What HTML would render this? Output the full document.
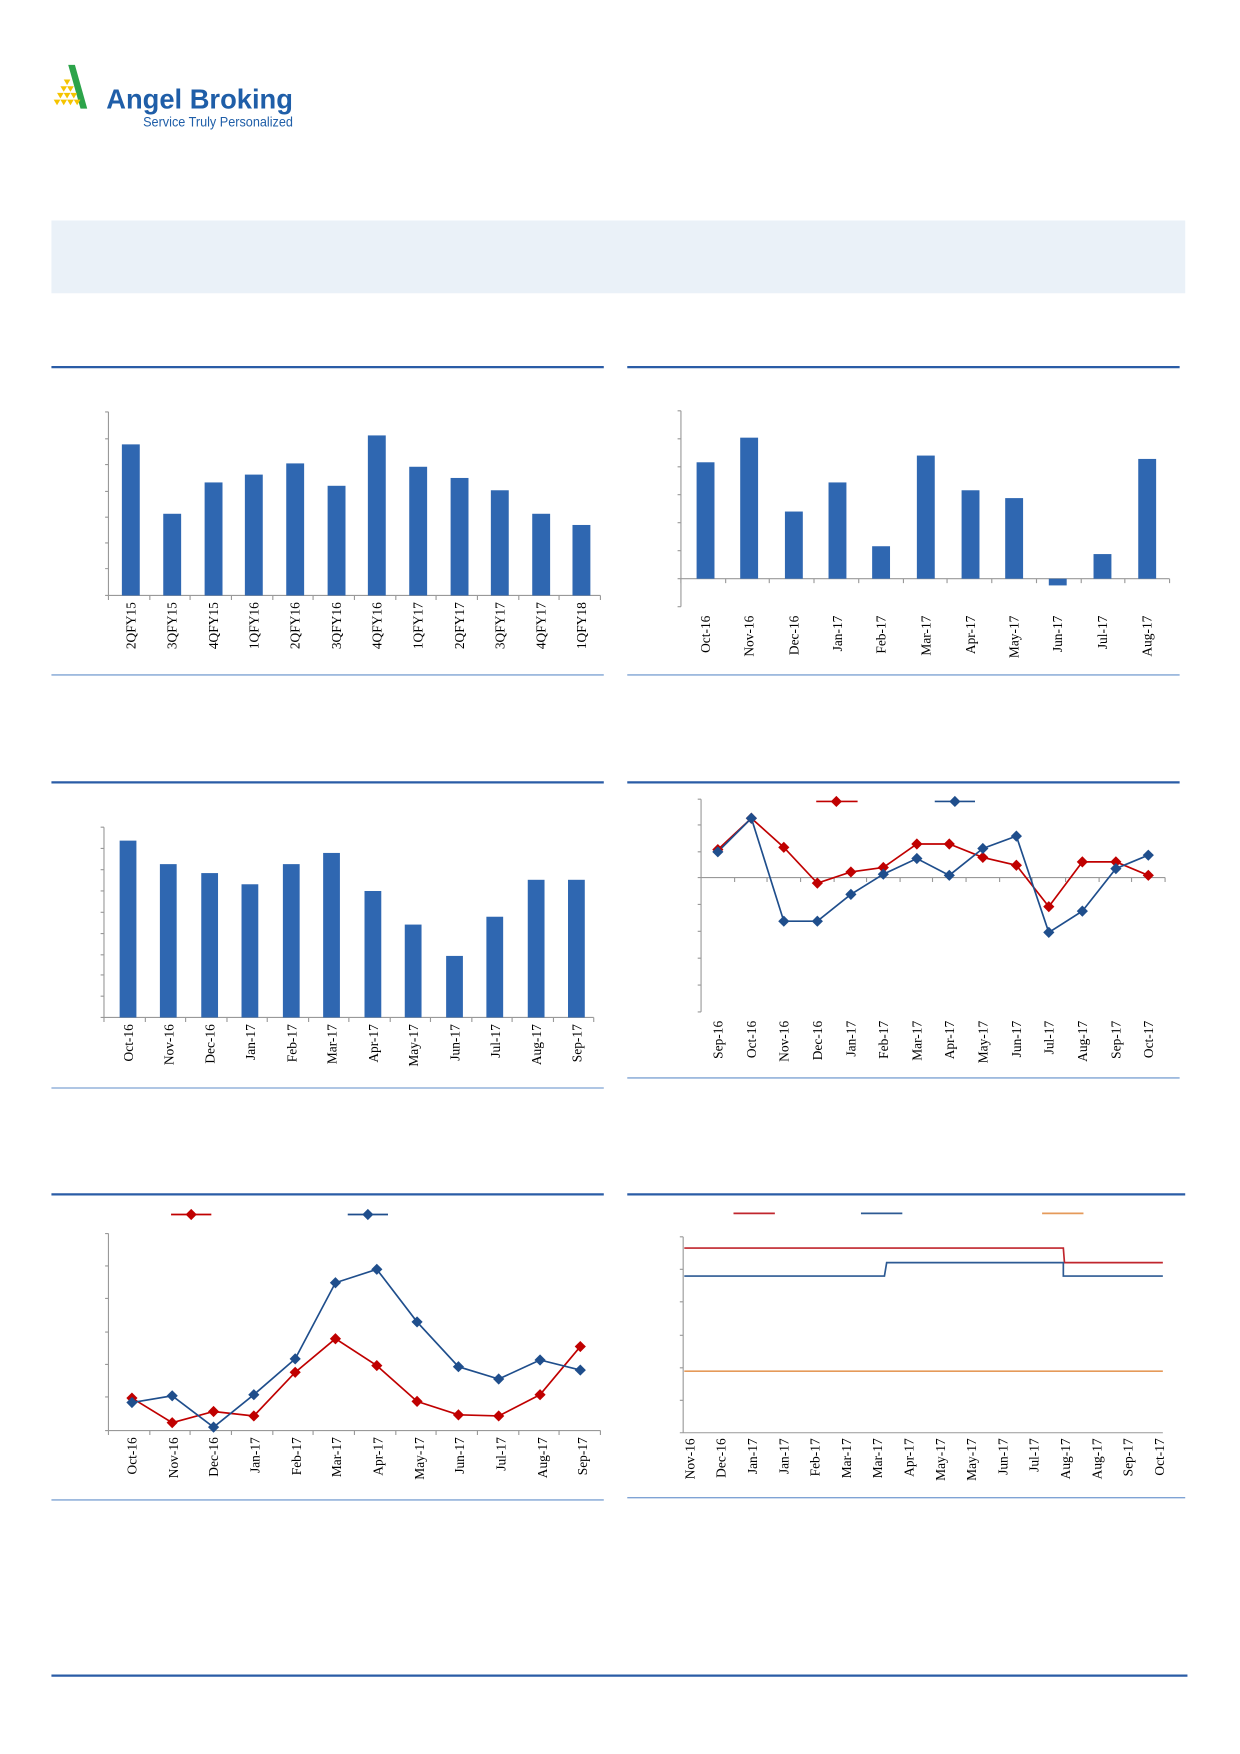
<!DOCTYPE html>
<html><head><meta charset="utf-8"><style>
html,body{margin:0;padding:0;background:#fff;}
svg{display:block;}
text{font-family:"Liberation Serif",serif;font-size:12px;fill:#000;}
</style></head><body>
<svg width="1240" height="1754" viewBox="0 0 1109 1567" preserveAspectRatio="none" xmlns="http://www.w3.org/2000/svg">
<!-- logo -->
<g>
<polygon points="61,58 67,58 78,97 72,97" fill="#2ca44a"/>
<g fill="#f5c400">
<polygon points="57,71 63,71 60,76"/>
<polygon points="54,77 60,77 57,82"/><polygon points="60,77 66,77 63,82"/>
<polygon points="51,83 57,83 54,88"/><polygon points="57,83 63,83 60,88"/><polygon points="63,83 69,83 66,88"/>
<polygon points="48,89 54,89 51,94"/><polygon points="54,89 60,89 57,94"/><polygon points="60,89 66,89 63,94"/><polygon points="66,89 72,89 69,94"/>
</g>
<text x="95" y="97" textLength="167" lengthAdjust="spacingAndGlyphs" style="font-family:'Liberation Sans',sans-serif;font-size:25px;font-weight:bold;fill:#1f5ea8">Angel Broking</text>
<text x="128" y="113" textLength="134" lengthAdjust="spacingAndGlyphs" style="font-family:'Liberation Sans',sans-serif;font-size:12px;fill:#1f5ea8">Service Truly Personalized</text>
</g>
<rect x="46" y="197" width="1014" height="65" fill="#eaf1f8"/>
<!-- section lines -->
<g stroke="#2a5ca6" stroke-width="2">
<line x1="46" y1="328" x2="540" y2="328"/><line x1="561" y1="328" x2="1055" y2="328"/>
<line x1="46" y1="699" x2="540" y2="699"/><line x1="561" y1="699" x2="1055" y2="699"/>
<line x1="46" y1="1067" x2="540" y2="1067"/><line x1="561" y1="1067" x2="1060" y2="1067"/>
<line x1="46" y1="1497" x2="1062" y2="1497"/>
</g>
<g stroke="#7fa3d4" stroke-width="1.2">
<line x1="46" y1="603" x2="540" y2="603"/><line x1="561" y1="603" x2="1055" y2="603"/>
<line x1="46" y1="972" x2="540" y2="972"/><line x1="561" y1="963" x2="1055" y2="963"/>
<line x1="46" y1="1340" x2="540" y2="1340"/><line x1="561" y1="1338" x2="1060" y2="1338"/>
</g>
<g id="charts" stroke="#999" stroke-width="1" fill="none">
<path d="M97 368V532H537 M94 368H97 M94 392H97 M94 415H97 M94 439H97 M94 462H97 M94 485H97 M94 508H97 M94 532H97"/>
<path d="M97 532v4M134 532v4M170 532v4M207 532v4M244 532v4M280 532v4M317 532v4M354 532v4M390 532v4M427 532v4M464 532v4M500 532v4M537 532v4"/>
<path d="M609 367V542 M606 367H609M606 392H609M606 417H609M606 442H609M606 467H609M606 492H609M606 517H609M606 542H609 M609 517H1046"/>
<path d="M609 517v4M649 517v4M688 517v4M728 517v4M768 517v4M808 517v4M847 517v4M887 517v4M927 517v4M967 517v4M1006 517v4M1046 517v4"/>
<path d="M93 739V909H531 M90 739H93M90 758H93M90 777H93M90 796H93M90 815H93M90 834H93M90 853H93M90 871H93M90 890H93M90 909H93"/>
<path d="M93 909v4M130 909v4M166 909v4M203 909v4M239 909v4M276 909v4M312 909v4M349 909v4M385 909v4M422 909v4M458 909v4M495 909v4M531 909v4"/>
<path d="M627 714V904 M624 714H627M624 737H627M624 761H627M624 784H627M624 808H627M624 832H627M624 856H627M624 880H627M624 904H627 M627 784H1042"/>
<path d="M657 784v4M686 784v4M716 784v4M746 784v4M775 784v4M805 784v4M834 784v4M864 784v4M894 784v4M923 784v4M953 784v4M983 784v4M1012 784v4M1042 784v4"/>
<path d="M97 1102V1278H537 M94 1102H97M94 1131H97M94 1160H97M94 1190H97M94 1219H97M94 1248H97M94 1278H97"/>
<path d="M97 1278v4M134 1278v4M170 1278v4M207 1278v4M244 1278v4M280 1278v4M317 1278v4M354 1278v4M390 1278v4M427 1278v4M464 1278v4M500 1278v4M537 1278v4"/>
<path d="M611 1105V1280H1040 M608 1105H611M608 1134H611M608 1163H611M608 1193H611M608 1222H611M608 1251H611M608 1280H611"/>
</g>
<g fill="#2f67b1">
<rect x="109" y="397" width="16" height="135"/><rect x="146" y="459" width="16" height="73"/>
<rect x="183" y="431" width="16" height="101"/><rect x="219" y="424" width="16" height="108"/>
<rect x="256" y="414" width="16" height="118"/><rect x="293" y="434" width="16" height="98"/>
<rect x="329" y="389" width="16" height="143"/><rect x="366" y="417" width="16" height="115"/>
<rect x="403" y="427" width="16" height="105"/><rect x="439" y="438" width="16" height="94"/>
<rect x="476" y="459" width="16" height="73"/><rect x="512" y="469" width="16" height="63"/>
<rect x="623" y="413" width="16" height="104"/><rect x="662" y="391" width="16" height="126"/>
<rect x="702" y="457" width="16" height="60"/><rect x="741" y="431" width="16" height="86"/>
<rect x="780" y="488" width="16" height="29"/><rect x="820" y="407" width="16" height="110"/>
<rect x="860" y="438" width="16" height="79"/><rect x="899" y="445" width="16" height="72"/>
<rect x="938" y="517" width="16" height="6"/><rect x="978" y="495" width="16" height="22"/>
<rect x="1018" y="410" width="16" height="107"/>
<rect x="107" y="751" width="15" height="158"/><rect x="143" y="772" width="15" height="137"/>
<rect x="180" y="780" width="15" height="129"/><rect x="216" y="790" width="15" height="119"/>
<rect x="253" y="772" width="15" height="137"/><rect x="289" y="762" width="15" height="147"/>
<rect x="326" y="796" width="15" height="113"/><rect x="362" y="826" width="15" height="83"/>
<rect x="399" y="854" width="15" height="55"/><rect x="435" y="819" width="15" height="90"/>
<rect x="472" y="786" width="15" height="123"/><rect x="508" y="786" width="15" height="123"/>
</g>
<g text-anchor="end">
<g transform="translate(0,538)">
<text transform="translate(121,0) rotate(-90)">2QFY15</text><text transform="translate(158,0) rotate(-90)">3QFY15</text>
<text transform="translate(195,0) rotate(-90)">4QFY15</text><text transform="translate(231,0) rotate(-90)">1QFY16</text>
<text transform="translate(268,0) rotate(-90)">2QFY16</text><text transform="translate(305,0) rotate(-90)">3QFY16</text>
<text transform="translate(341,0) rotate(-90)">4QFY16</text><text transform="translate(378,0) rotate(-90)">1QFY17</text>
<text transform="translate(415,0) rotate(-90)">2QFY17</text><text transform="translate(451,0) rotate(-90)">3QFY17</text>
<text transform="translate(488,0) rotate(-90)">4QFY17</text><text transform="translate(524,0) rotate(-90)">1QFY18</text>
</g>
<g transform="translate(0,550)">
<text transform="translate(635,0) rotate(-90)">Oct-16</text><text transform="translate(674,0) rotate(-90)">Nov-16</text>
<text transform="translate(714,0) rotate(-90)">Dec-16</text><text transform="translate(753,0) rotate(-90)">Jan-17</text>
<text transform="translate(792,0) rotate(-90)">Feb-17</text><text transform="translate(832,0) rotate(-90)">Mar-17</text>
<text transform="translate(872,0) rotate(-90)">Apr-17</text><text transform="translate(911,0) rotate(-90)">May-17</text>
<text transform="translate(950,0) rotate(-90)">Jun-17</text><text transform="translate(990,0) rotate(-90)">Jul-17</text>
<text transform="translate(1030,0) rotate(-90)">Aug-17</text>
</g>
<g transform="translate(0,915)">
<text transform="translate(119,0) rotate(-90)">Oct-16</text><text transform="translate(155,0) rotate(-90)">Nov-16</text>
<text transform="translate(192,0) rotate(-90)">Dec-16</text><text transform="translate(228,0) rotate(-90)">Jan-17</text>
<text transform="translate(265,0) rotate(-90)">Feb-17</text><text transform="translate(301,0) rotate(-90)">Mar-17</text>
<text transform="translate(338,0) rotate(-90)">Apr-17</text><text transform="translate(374,0) rotate(-90)">May-17</text>
<text transform="translate(411,0) rotate(-90)">Jun-17</text><text transform="translate(447,0) rotate(-90)">Jul-17</text>
<text transform="translate(484,0) rotate(-90)">Aug-17</text><text transform="translate(520,0) rotate(-90)">Sep-17</text>
</g>
<g transform="translate(0,912)">
<text transform="translate(646,0) rotate(-90)">Sep-16</text><text transform="translate(676,0) rotate(-90)">Oct-16</text>
<text transform="translate(705,0) rotate(-90)">Nov-16</text><text transform="translate(735,0) rotate(-90)">Dec-16</text>
<text transform="translate(765,0) rotate(-90)">Jan-17</text><text transform="translate(794,0) rotate(-90)">Feb-17</text>
<text transform="translate(824,0) rotate(-90)">Mar-17</text><text transform="translate(853,0) rotate(-90)">Apr-17</text>
<text transform="translate(883,0) rotate(-90)">May-17</text><text transform="translate(913,0) rotate(-90)">Jun-17</text>
<text transform="translate(942,0) rotate(-90)">Jul-17</text><text transform="translate(972,0) rotate(-90)">Aug-17</text>
<text transform="translate(1002,0) rotate(-90)">Sep-17</text><text transform="translate(1031,0) rotate(-90)">Oct-17</text>
</g>
<g transform="translate(0,1284)">
<text transform="translate(122,0) rotate(-90)">Oct-16</text><text transform="translate(159,0) rotate(-90)">Nov-16</text>
<text transform="translate(195,0) rotate(-90)">Dec-16</text><text transform="translate(232,0) rotate(-90)">Jan-17</text>
<text transform="translate(269,0) rotate(-90)">Feb-17</text><text transform="translate(305,0) rotate(-90)">Mar-17</text>
<text transform="translate(342,0) rotate(-90)">Apr-17</text><text transform="translate(379,0) rotate(-90)">May-17</text>
<text transform="translate(415,0) rotate(-90)">Jun-17</text><text transform="translate(452,0) rotate(-90)">Jul-17</text>
<text transform="translate(489,0) rotate(-90)">Aug-17</text><text transform="translate(525,0) rotate(-90)">Sep-17</text>
</g>
<g transform="translate(0,1285)">
<text transform="translate(621,0) rotate(-90)">Nov-16</text><text transform="translate(649,0) rotate(-90)">Dec-16</text>
<text transform="translate(677,0) rotate(-90)">Jan-17</text><text transform="translate(705,0) rotate(-90)">Jan-17</text>
<text transform="translate(733,0) rotate(-90)">Feb-17</text><text transform="translate(761,0) rotate(-90)">Mar-17</text>
<text transform="translate(789,0) rotate(-90)">Mar-17</text><text transform="translate(817,0) rotate(-90)">Apr-17</text>
<text transform="translate(845,0) rotate(-90)">May-17</text><text transform="translate(873,0) rotate(-90)">May-17</text>
<text transform="translate(901,0) rotate(-90)">Jun-17</text><text transform="translate(929,0) rotate(-90)">Jul-17</text>
<text transform="translate(957,0) rotate(-90)">Aug-17</text><text transform="translate(985,0) rotate(-90)">Aug-17</text>
<text transform="translate(1013,0) rotate(-90)">Sep-17</text><text transform="translate(1041,0) rotate(-90)">Oct-17</text>
</g>
</g>
<defs>
<path id="dm" d="M0 -5L5 0L0 5L-5 0Z"/>
</defs>
<polyline fill="none" stroke="#c00000" stroke-width="1.5" points="642,759 672,731 701,757 731,789 761,779 790,775 820,754 849,754 879,766 909,773 938,810 968,770 998,770 1027,782"/>
<polyline fill="none" stroke="#1f4e8c" stroke-width="1.5" points="642,761 672,731 701,823 731,823 761,799 790,781 820,767 849,782 879,758 909,747 938,833 968,814 998,776 1027,764"/>
<g fill="#c00000">
<use href="#dm" x="642" y="759"/><use href="#dm" x="672" y="731"/><use href="#dm" x="701" y="757"/><use href="#dm" x="731" y="789"/><use href="#dm" x="761" y="779"/><use href="#dm" x="790" y="775"/><use href="#dm" x="820" y="754"/><use href="#dm" x="849" y="754"/><use href="#dm" x="879" y="766"/><use href="#dm" x="909" y="773"/><use href="#dm" x="938" y="810"/><use href="#dm" x="968" y="770"/><use href="#dm" x="998" y="770"/><use href="#dm" x="1027" y="782"/>
</g>
<g fill="#1f4e8c">
<use href="#dm" x="642" y="761"/><use href="#dm" x="672" y="731"/><use href="#dm" x="701" y="823"/><use href="#dm" x="731" y="823"/><use href="#dm" x="761" y="799"/><use href="#dm" x="790" y="781"/><use href="#dm" x="820" y="767"/><use href="#dm" x="849" y="782"/><use href="#dm" x="879" y="758"/><use href="#dm" x="909" y="747"/><use href="#dm" x="938" y="833"/><use href="#dm" x="968" y="814"/><use href="#dm" x="998" y="776"/><use href="#dm" x="1027" y="764"/>
</g>
<line x1="730" y1="716" x2="767" y2="716" stroke="#c00000" stroke-width="1.5"/><use href="#dm" x="748" y="716" fill="#c00000"/>
<line x1="836" y1="716" x2="872" y2="716" stroke="#1f4e8c" stroke-width="1.5"/><use href="#dm" x="854" y="716" fill="#1f4e8c"/>
<polyline fill="none" stroke="#c00000" stroke-width="1.5" points="118,1249 154,1271 191,1261 227,1265 264,1226 300,1196 337,1220 373,1252 410,1264 446,1265 483,1246 519,1203"/>
<polyline fill="none" stroke="#1f4e8c" stroke-width="1.5" points="118,1253 154,1247 191,1275 227,1246 264,1214 300,1146 337,1134 373,1181 410,1221 446,1232 483,1215 519,1224"/>
<g fill="#c00000">
<use href="#dm" x="118" y="1249"/><use href="#dm" x="154" y="1271"/><use href="#dm" x="191" y="1261"/><use href="#dm" x="227" y="1265"/><use href="#dm" x="264" y="1226"/><use href="#dm" x="300" y="1196"/><use href="#dm" x="337" y="1220"/><use href="#dm" x="373" y="1252"/><use href="#dm" x="410" y="1264"/><use href="#dm" x="446" y="1265"/><use href="#dm" x="483" y="1246"/><use href="#dm" x="519" y="1203"/>
</g>
<g fill="#1f4e8c">
<use href="#dm" x="118" y="1253"/><use href="#dm" x="154" y="1247"/><use href="#dm" x="191" y="1275"/><use href="#dm" x="227" y="1246"/><use href="#dm" x="264" y="1214"/><use href="#dm" x="300" y="1146"/><use href="#dm" x="337" y="1134"/><use href="#dm" x="373" y="1181"/><use href="#dm" x="410" y="1221"/><use href="#dm" x="446" y="1232"/><use href="#dm" x="483" y="1215"/><use href="#dm" x="519" y="1224"/>
</g>
<line x1="153" y1="1085" x2="189" y2="1085" stroke="#c00000" stroke-width="1.5"/><use href="#dm" x="171" y="1085" fill="#c00000"/>
<line x1="311" y1="1085" x2="347" y2="1085" stroke="#1f4e8c" stroke-width="1.5"/><use href="#dm" x="329" y="1085" fill="#1f4e8c"/>
<polyline fill="none" stroke="#c0262d" stroke-width="1.5" points="612,1115 951,1115 952,1128 1040,1128"/>
<polyline fill="none" stroke="#2d5a93" stroke-width="1.5" points="612,1140 791,1140 793,1128 951,1128 951,1140 1040,1140"/>
<line x1="612" y1="1225" x2="1040" y2="1225" stroke="#e59a5a" stroke-width="1.5"/>
<line x1="656" y1="1084" x2="693" y2="1084" stroke="#c0262d" stroke-width="1.5"/>
<line x1="770" y1="1084" x2="807" y2="1084" stroke="#2d5a93" stroke-width="1.5"/>
<line x1="932" y1="1084" x2="969" y2="1084" stroke="#e59a5a" stroke-width="1.5"/>
</svg>
</body></html>
